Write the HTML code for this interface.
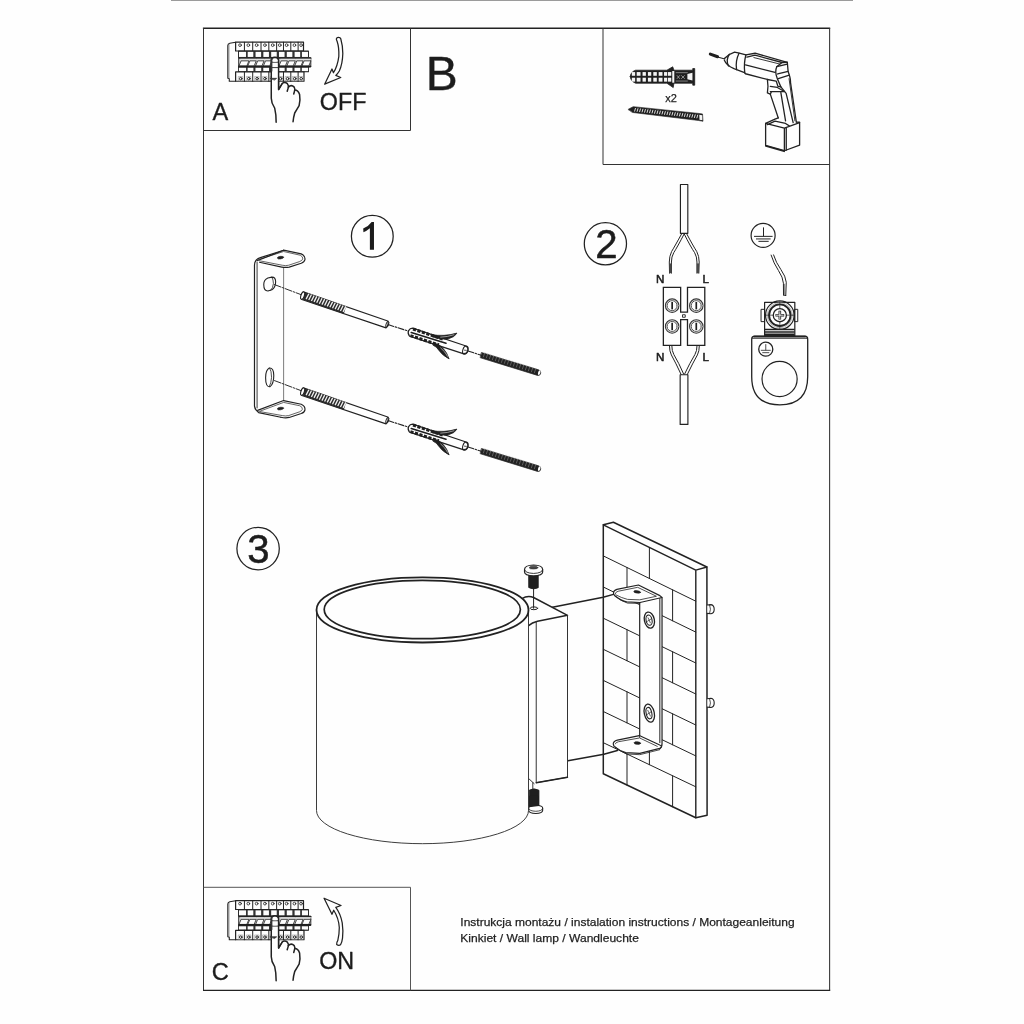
<!DOCTYPE html>
<html><head><meta charset="utf-8">
<style>
html,body{margin:0;padding:0;background:#fefefe;}
body{width:1024px;height:1024px;overflow:hidden;position:relative;font-family:"Liberation Sans",sans-serif;}
svg{position:absolute;left:0;top:0;filter:grayscale(1);}
text{font-family:"Liberation Sans",sans-serif;fill:#1c1c1c;stroke:none;}
</style></head><body>
<svg width="1024" height="1024" viewBox="0 0 1024 1024" fill="none" stroke="#222" stroke-width="1.2" stroke-linecap="round" stroke-linejoin="round">
<!-- sec_00_frame -->
<g stroke-linecap="butt" stroke-linejoin="miter">
<line x1="171" y1="0.2" x2="853" y2="0.2" stroke="#7a7a7a" stroke-width="1.3"/>
<line x1="202.9" y1="28.3" x2="830.2" y2="28.3" stroke="#222" stroke-width="1.5"/>
<line x1="203.5" y1="28" x2="203.5" y2="990.5" stroke="#333" stroke-width="1.0"/>
<line x1="829.6" y1="28" x2="829.6" y2="990.5" stroke="#3a3a3a" stroke-width="1.1"/>
<line x1="203" y1="990.3" x2="830.2" y2="990.3" stroke="#222" stroke-width="1.3"/>
<path d="M203.5 130.5H410.5V28.3" stroke="#333" stroke-width="1.0"/>
<path d="M603 28.3V164.5H829.6" stroke="#333" stroke-width="1.0"/>
<path d="M203.5 887.3H410.5V990.3" stroke="#555" stroke-width="1.0"/>
</g>
<!-- sec_10_breaker -->
<g>
<path d="M 235.62 42.21 L 229.77 43.18 Q 227.81 43.67 227.81 45.62 L 227.81 78.34 L 229.28 78.83 L 229.28 81.27 L 235.62 81.27" stroke-width="1.1"/>
<path d="M 228.98 44.65 L 228.98 78.34" stroke-width="0.6" stroke="#555"/>
<rect x="235.62" y="42.21" width="67.88" height="8.79" stroke-width="1.2" fill="#fefefe"/>
<line x1="244.41" y1="42.21" x2="244.41" y2="51" stroke-width="1.0"/>
<line x1="252.71" y1="42.21" x2="252.71" y2="51" stroke-width="1.0"/>
<line x1="261.02" y1="42.21" x2="261.02" y2="51" stroke-width="1.0"/>
<line x1="268.83" y1="42.21" x2="268.83" y2="51" stroke-width="1.0"/>
<line x1="276.64" y1="42.21" x2="276.64" y2="51" stroke-width="1.0"/>
<line x1="283.48" y1="42.21" x2="283.48" y2="51" stroke-width="1.0"/>
<line x1="290.8" y1="42.21" x2="290.8" y2="51" stroke-width="1.0"/>
<line x1="298.12" y1="42.21" x2="298.12" y2="51" stroke-width="1.0"/>
<circle cx="240.02" cy="45.14" r="1.37" stroke-width="0.8"/>
<circle cx="248.32" cy="45.14" r="1.37" stroke-width="0.8"/>
<circle cx="256.62" cy="45.14" r="1.37" stroke-width="0.8"/>
<circle cx="264.92" cy="45.14" r="1.37" stroke-width="0.8"/>
<circle cx="272.73" cy="45.14" r="1.37" stroke-width="0.8"/>
<circle cx="279.77" cy="45.14" r="1.37" stroke-width="0.8"/>
<circle cx="286.6" cy="45.14" r="1.37" stroke-width="0.8"/>
<circle cx="294.41" cy="45.14" r="1.37" stroke-width="0.8"/>
<circle cx="301.05" cy="45.14" r="1.37" stroke-width="0.8"/>
<rect x="238.55" y="51" width="69.83" height="6.34" stroke-width="1.1" fill="#333"/>
<rect x="238.95" y="51.88" width="7.03" height="5.07" stroke="none" fill="#fdfdfd"/>
<rect x="247.73" y="51.88" width="5.57" height="5.07" stroke="none" fill="#fdfdfd"/>
<rect x="255.55" y="51.88" width="5.56" height="5.07" stroke="none" fill="#fdfdfd"/>
<rect x="263.36" y="51.88" width="5.57" height="5.07" stroke="none" fill="#fdfdfd"/>
<rect x="271.17" y="51.88" width="5.57" height="5.07" stroke="none" fill="#fdfdfd"/>
<rect x="278.98" y="51.88" width="5.57" height="5.07" stroke="none" fill="#fdfdfd"/>
<rect x="286.8" y="51.88" width="5.56" height="5.07" stroke="none" fill="#fdfdfd"/>
<rect x="294.61" y="51.88" width="5.57" height="5.07" stroke="none" fill="#fdfdfd"/>
<rect x="301.93" y="51.88" width="6.06" height="5.07" stroke="none" fill="#fdfdfd"/>
<rect x="239.04" y="57.64" width="71.78" height="9.27" stroke-width="0.9" fill="#d0d0d0"/>
<line x1="239.04" y1="58.03" x2="310.82" y2="58.03" stroke-width="1.3" stroke="#222"/>
<line x1="239.04" y1="66.33" x2="310.33" y2="66.33" stroke-width="1.8" stroke="#1a1a1a"/>
<path d="M 239.14 65.55 L 241.09 60.86 L 248.91 60.86 L 246.95 65.55 Z" fill="#fdfdfd" stroke="#222" stroke-width="0.8"/>
<path d="M 240.7 59.3 L 248.91 59.3" stroke="#e8e8e8" stroke-width="0.9"/>
<path d="M 247.93 65.55 L 249.88 60.86 L 256.23 60.86 L 254.28 65.55 Z" fill="#fdfdfd" stroke="#222" stroke-width="0.8"/>
<path d="M 249.49 59.3 L 256.23 59.3" stroke="#e8e8e8" stroke-width="0.9"/>
<path d="M 255.74 65.55 L 257.7 60.86 L 264.04 60.86 L 262.09 65.55 Z" fill="#fdfdfd" stroke="#222" stroke-width="0.8"/>
<path d="M 257.3 59.3 L 264.04 59.3" stroke="#e8e8e8" stroke-width="0.9"/>
<path d="M 263.55 65.55 L 265.51 60.86 L 271.86 60.86 L 269.9 65.55 Z" fill="#fdfdfd" stroke="#222" stroke-width="0.8"/>
<path d="M 265.12 59.3 L 271.86 59.3" stroke="#e8e8e8" stroke-width="0.9"/>
<path d="M 279.18 65.55 L 281.13 60.86 L 287.48 60.86 L 285.53 65.55 Z" fill="#fdfdfd" stroke="#222" stroke-width="0.8"/>
<path d="M 280.74 59.3 L 287.48 59.3" stroke="#e8e8e8" stroke-width="0.9"/>
<path d="M 286.99 65.55 L 288.95 60.86 L 295.29 60.86 L 293.34 65.55 Z" fill="#fdfdfd" stroke="#222" stroke-width="0.8"/>
<path d="M 288.55 59.3 L 295.29 59.3" stroke="#e8e8e8" stroke-width="0.9"/>
<path d="M 294.8 65.55 L 296.76 60.86 L 303.11 60.86 L 301.15 65.55 Z" fill="#fdfdfd" stroke="#222" stroke-width="0.8"/>
<path d="M 296.37 59.3 L 303.11 59.3" stroke="#e8e8e8" stroke-width="0.9"/>
<path d="M 302.13 65.55 L 304.08 60.86 L 310.92 60.86 L 308.96 65.55 Z" fill="#fdfdfd" stroke="#222" stroke-width="0.8"/>
<path d="M 303.69 59.3 L 310.92 59.3" stroke="#e8e8e8" stroke-width="0.9"/>
<rect x="238.55" y="66.91" width="69.83" height="4.89" stroke-width="1.1" fill="#333"/>
<rect x="238.85" y="67.79" width="7.22" height="3.32" stroke="none" fill="#fdfdfd"/>
<rect x="247.64" y="67.79" width="5.76" height="3.32" stroke="none" fill="#fdfdfd"/>
<rect x="255.45" y="67.79" width="5.76" height="3.32" stroke="none" fill="#fdfdfd"/>
<rect x="263.26" y="67.79" width="5.76" height="3.32" stroke="none" fill="#fdfdfd"/>
<rect x="271.07" y="67.79" width="5.77" height="3.32" stroke="none" fill="#fdfdfd"/>
<rect x="278.89" y="67.79" width="5.76" height="3.32" stroke="none" fill="#fdfdfd"/>
<rect x="286.7" y="67.79" width="5.76" height="3.32" stroke="none" fill="#fdfdfd"/>
<rect x="294.51" y="67.79" width="5.76" height="3.32" stroke="none" fill="#fdfdfd"/>
<rect x="301.84" y="67.79" width="6.25" height="3.32" stroke="none" fill="#fdfdfd"/>
<rect x="235.62" y="71.8" width="68.36" height="9.47" stroke-width="1.2" fill="#fefefe"/>
<line x1="244.41" y1="71.8" x2="244.41" y2="81.27" stroke-width="1.0"/>
<line x1="252.71" y1="71.8" x2="252.71" y2="81.27" stroke-width="1.0"/>
<line x1="261.02" y1="71.8" x2="261.02" y2="81.27" stroke-width="1.0"/>
<line x1="268.83" y1="71.8" x2="268.83" y2="81.27" stroke-width="1.0"/>
<line x1="276.64" y1="71.8" x2="276.64" y2="81.27" stroke-width="1.0"/>
<line x1="283.48" y1="71.8" x2="283.48" y2="81.27" stroke-width="1.0"/>
<line x1="290.8" y1="71.8" x2="290.8" y2="81.27" stroke-width="1.0"/>
<line x1="298.12" y1="71.8" x2="298.12" y2="81.27" stroke-width="1.0"/>
<rect x="238.65" y="76.48" width="4.1" height="4.4" stroke-width="0.5" stroke="#888"/>
<circle cx="240.7" cy="78.63" r="1.27" stroke-width="1.0" fill="#fefefe"/>
<rect x="246.76" y="76.48" width="4.1" height="4.4" stroke-width="0.5" stroke="#888"/>
<circle cx="248.81" cy="78.63" r="1.27" stroke-width="1.0" fill="#fefefe"/>
<rect x="255.06" y="76.48" width="4.1" height="4.4" stroke-width="0.5" stroke="#888"/>
<circle cx="257.11" cy="78.63" r="1.27" stroke-width="1.0" fill="#fefefe"/>
<rect x="262.87" y="76.48" width="4.1" height="4.4" stroke-width="0.5" stroke="#888"/>
<circle cx="264.92" cy="78.63" r="1.27" stroke-width="1.0" fill="#fefefe"/>
<rect x="270.68" y="76.48" width="4.11" height="4.4" stroke-width="0.5" stroke="#888"/>
<circle cx="272.73" cy="78.63" r="1.27" stroke-width="1.0" fill="#fefefe"/>
<rect x="278.5" y="76.48" width="4.1" height="4.4" stroke-width="0.5" stroke="#888"/>
<circle cx="280.55" cy="78.63" r="1.27" stroke-width="1.0" fill="#fefefe"/>
<rect x="285.53" y="76.48" width="4.1" height="4.4" stroke-width="0.5" stroke="#888"/>
<circle cx="287.58" cy="78.63" r="1.27" stroke-width="1.0" fill="#fefefe"/>
<rect x="292.66" y="76.48" width="4.1" height="4.4" stroke-width="0.5" stroke="#888"/>
<circle cx="294.71" cy="78.63" r="1.27" stroke-width="1.0" fill="#fefefe"/>
<rect x="299.2" y="76.48" width="4.1" height="4.4" stroke-width="0.5" stroke="#888"/>
<circle cx="301.25" cy="78.63" r="1.27" stroke-width="1.0" fill="#fefefe"/>
<path d="M 271.27 98.36 L 271.27 60.27 Q 271.46 57.54 274.88 57.34 Q 278.4 57.54 278.59 60.27 L 278.59 89.57 L 282.5 83.22 Q 284.94 81.76 287.38 83.71 Q 288.85 85.18 288.36 87.13 Q 291.29 84.2 294.22 87.13 Q 295.2 88.59 294.71 90.06 Q 298.12 90.06 299.59 94.45 Q 300.57 100.31 299.1 105.68 Q 297.15 109.1 294.71 113.01 Q 293.44 117.4 293.05 121.8 L 276.15 122.29 Q 276.15 113.98 274.69 108.12 Q 271.27 103.24 271.27 98.36 Z" fill="#fefefe" stroke="none"/>
<path d="M 276.15 122.29 Q 276.15 113.98 274.69 108.12 Q 271.27 103.24 271.27 98.36 L 271.27 60.27 Q 271.46 57.54 274.88 57.34 Q 278.4 57.54 278.59 60.27 L 278.59 89.57 L 282.5 83.22 Q 284.94 81.76 287.38 83.71 Q 289.14 85.66 288.16 88.11 L 287.19 91.33" stroke-width="1.5"/>
<path d="M 288.36 87.13 Q 291.29 84.2 294.22 87.13 Q 295.39 89.08 294.41 91.52 L 293.73 93.96" stroke-width="1.5"/>
<path d="M 294.71 90.06 Q 298.12 90.06 299.59 94.45 Q 300.57 100.31 299.1 105.68 Q 297.15 109.1 294.71 113.01 Q 293.44 117.4 293.05 121.8" stroke-width="1.5"/>
<path d="M 271.56 62.23 L 278.4 62.23 M 271.56 67.6 L 278.4 67.6" stroke-width="0.9"/>
<path d="M 271.56 59.3 L 271.56 71.02" stroke="#333" stroke-width="1.6"/>
<rect x="273.22" y="59.3" width="3.42" height="2.44" fill="#fdfdfd" stroke="none"/>
<rect x="273.22" y="63.69" width="3.42" height="3.22" fill="#fdfdfd" stroke="none"/>
<path d="M 270.29 78.34 L 276.64 78.34 L 274.69 79.8 Z" fill="#333" stroke="#333" stroke-width="0.8"/>
<path d="M 278.59 80.78 L 278.59 89.57 L 282.01 83.71" fill="none" stroke-width="1.3"/>
</g>
<g transform="translate(0,858.5)">
<path d="M 235.62 42.21 L 229.77 43.18 Q 227.81 43.67 227.81 45.62 L 227.81 78.34 L 229.28 78.83 L 229.28 81.27 L 235.62 81.27" stroke-width="1.1"/>
<path d="M 228.98 44.65 L 228.98 78.34" stroke-width="0.6" stroke="#555"/>
<rect x="235.62" y="42.21" width="67.88" height="8.79" stroke-width="1.2" fill="#fefefe"/>
<line x1="244.41" y1="42.21" x2="244.41" y2="51" stroke-width="1.0"/>
<line x1="252.71" y1="42.21" x2="252.71" y2="51" stroke-width="1.0"/>
<line x1="261.02" y1="42.21" x2="261.02" y2="51" stroke-width="1.0"/>
<line x1="268.83" y1="42.21" x2="268.83" y2="51" stroke-width="1.0"/>
<line x1="276.64" y1="42.21" x2="276.64" y2="51" stroke-width="1.0"/>
<line x1="283.48" y1="42.21" x2="283.48" y2="51" stroke-width="1.0"/>
<line x1="290.8" y1="42.21" x2="290.8" y2="51" stroke-width="1.0"/>
<line x1="298.12" y1="42.21" x2="298.12" y2="51" stroke-width="1.0"/>
<circle cx="240.02" cy="45.14" r="1.37" stroke-width="0.8"/>
<circle cx="248.32" cy="45.14" r="1.37" stroke-width="0.8"/>
<circle cx="256.62" cy="45.14" r="1.37" stroke-width="0.8"/>
<circle cx="264.92" cy="45.14" r="1.37" stroke-width="0.8"/>
<circle cx="272.73" cy="45.14" r="1.37" stroke-width="0.8"/>
<circle cx="279.77" cy="45.14" r="1.37" stroke-width="0.8"/>
<circle cx="286.6" cy="45.14" r="1.37" stroke-width="0.8"/>
<circle cx="294.41" cy="45.14" r="1.37" stroke-width="0.8"/>
<circle cx="301.05" cy="45.14" r="1.37" stroke-width="0.8"/>
<rect x="238.55" y="51" width="69.83" height="6.34" stroke-width="1.1" fill="#333"/>
<rect x="238.95" y="51.88" width="7.03" height="5.07" stroke="none" fill="#fdfdfd"/>
<rect x="247.73" y="51.88" width="5.57" height="5.07" stroke="none" fill="#fdfdfd"/>
<rect x="255.55" y="51.88" width="5.56" height="5.07" stroke="none" fill="#fdfdfd"/>
<rect x="263.36" y="51.88" width="5.57" height="5.07" stroke="none" fill="#fdfdfd"/>
<rect x="271.17" y="51.88" width="5.57" height="5.07" stroke="none" fill="#fdfdfd"/>
<rect x="278.98" y="51.88" width="5.57" height="5.07" stroke="none" fill="#fdfdfd"/>
<rect x="286.8" y="51.88" width="5.56" height="5.07" stroke="none" fill="#fdfdfd"/>
<rect x="294.61" y="51.88" width="5.57" height="5.07" stroke="none" fill="#fdfdfd"/>
<rect x="301.93" y="51.88" width="6.06" height="5.07" stroke="none" fill="#fdfdfd"/>
<rect x="239.04" y="57.64" width="71.78" height="9.27" stroke-width="0.9" fill="#d0d0d0"/>
<line x1="239.04" y1="58.03" x2="310.82" y2="58.03" stroke-width="1.3" stroke="#222"/>
<line x1="239.04" y1="66.33" x2="310.33" y2="66.33" stroke-width="1.8" stroke="#1a1a1a"/>
<path d="M 239.14 65.55 L 241.09 60.86 L 248.91 60.86 L 246.95 65.55 Z" fill="#fdfdfd" stroke="#222" stroke-width="0.8"/>
<path d="M 240.7 59.3 L 248.91 59.3" stroke="#e8e8e8" stroke-width="0.9"/>
<path d="M 247.93 65.55 L 249.88 60.86 L 256.23 60.86 L 254.28 65.55 Z" fill="#fdfdfd" stroke="#222" stroke-width="0.8"/>
<path d="M 249.49 59.3 L 256.23 59.3" stroke="#e8e8e8" stroke-width="0.9"/>
<path d="M 255.74 65.55 L 257.7 60.86 L 264.04 60.86 L 262.09 65.55 Z" fill="#fdfdfd" stroke="#222" stroke-width="0.8"/>
<path d="M 257.3 59.3 L 264.04 59.3" stroke="#e8e8e8" stroke-width="0.9"/>
<path d="M 263.55 65.55 L 265.51 60.86 L 271.86 60.86 L 269.9 65.55 Z" fill="#fdfdfd" stroke="#222" stroke-width="0.8"/>
<path d="M 265.12 59.3 L 271.86 59.3" stroke="#e8e8e8" stroke-width="0.9"/>
<path d="M 279.18 65.55 L 281.13 60.86 L 287.48 60.86 L 285.53 65.55 Z" fill="#fdfdfd" stroke="#222" stroke-width="0.8"/>
<path d="M 280.74 59.3 L 287.48 59.3" stroke="#e8e8e8" stroke-width="0.9"/>
<path d="M 286.99 65.55 L 288.95 60.86 L 295.29 60.86 L 293.34 65.55 Z" fill="#fdfdfd" stroke="#222" stroke-width="0.8"/>
<path d="M 288.55 59.3 L 295.29 59.3" stroke="#e8e8e8" stroke-width="0.9"/>
<path d="M 294.8 65.55 L 296.76 60.86 L 303.11 60.86 L 301.15 65.55 Z" fill="#fdfdfd" stroke="#222" stroke-width="0.8"/>
<path d="M 296.37 59.3 L 303.11 59.3" stroke="#e8e8e8" stroke-width="0.9"/>
<path d="M 302.13 65.55 L 304.08 60.86 L 310.92 60.86 L 308.96 65.55 Z" fill="#fdfdfd" stroke="#222" stroke-width="0.8"/>
<path d="M 303.69 59.3 L 310.92 59.3" stroke="#e8e8e8" stroke-width="0.9"/>
<rect x="238.55" y="66.91" width="69.83" height="4.89" stroke-width="1.1" fill="#333"/>
<rect x="238.85" y="67.79" width="7.22" height="3.32" stroke="none" fill="#fdfdfd"/>
<rect x="247.64" y="67.79" width="5.76" height="3.32" stroke="none" fill="#fdfdfd"/>
<rect x="255.45" y="67.79" width="5.76" height="3.32" stroke="none" fill="#fdfdfd"/>
<rect x="263.26" y="67.79" width="5.76" height="3.32" stroke="none" fill="#fdfdfd"/>
<rect x="271.07" y="67.79" width="5.77" height="3.32" stroke="none" fill="#fdfdfd"/>
<rect x="278.89" y="67.79" width="5.76" height="3.32" stroke="none" fill="#fdfdfd"/>
<rect x="286.7" y="67.79" width="5.76" height="3.32" stroke="none" fill="#fdfdfd"/>
<rect x="294.51" y="67.79" width="5.76" height="3.32" stroke="none" fill="#fdfdfd"/>
<rect x="301.84" y="67.79" width="6.25" height="3.32" stroke="none" fill="#fdfdfd"/>
<rect x="235.62" y="71.8" width="68.36" height="9.47" stroke-width="1.2" fill="#fefefe"/>
<line x1="244.41" y1="71.8" x2="244.41" y2="81.27" stroke-width="1.0"/>
<line x1="252.71" y1="71.8" x2="252.71" y2="81.27" stroke-width="1.0"/>
<line x1="261.02" y1="71.8" x2="261.02" y2="81.27" stroke-width="1.0"/>
<line x1="268.83" y1="71.8" x2="268.83" y2="81.27" stroke-width="1.0"/>
<line x1="276.64" y1="71.8" x2="276.64" y2="81.27" stroke-width="1.0"/>
<line x1="283.48" y1="71.8" x2="283.48" y2="81.27" stroke-width="1.0"/>
<line x1="290.8" y1="71.8" x2="290.8" y2="81.27" stroke-width="1.0"/>
<line x1="298.12" y1="71.8" x2="298.12" y2="81.27" stroke-width="1.0"/>
<rect x="238.65" y="76.48" width="4.1" height="4.4" stroke-width="0.5" stroke="#888"/>
<circle cx="240.7" cy="78.63" r="1.27" stroke-width="1.0" fill="#fefefe"/>
<rect x="246.76" y="76.48" width="4.1" height="4.4" stroke-width="0.5" stroke="#888"/>
<circle cx="248.81" cy="78.63" r="1.27" stroke-width="1.0" fill="#fefefe"/>
<rect x="255.06" y="76.48" width="4.1" height="4.4" stroke-width="0.5" stroke="#888"/>
<circle cx="257.11" cy="78.63" r="1.27" stroke-width="1.0" fill="#fefefe"/>
<rect x="262.87" y="76.48" width="4.1" height="4.4" stroke-width="0.5" stroke="#888"/>
<circle cx="264.92" cy="78.63" r="1.27" stroke-width="1.0" fill="#fefefe"/>
<rect x="270.68" y="76.48" width="4.11" height="4.4" stroke-width="0.5" stroke="#888"/>
<circle cx="272.73" cy="78.63" r="1.27" stroke-width="1.0" fill="#fefefe"/>
<rect x="278.5" y="76.48" width="4.1" height="4.4" stroke-width="0.5" stroke="#888"/>
<circle cx="280.55" cy="78.63" r="1.27" stroke-width="1.0" fill="#fefefe"/>
<rect x="285.53" y="76.48" width="4.1" height="4.4" stroke-width="0.5" stroke="#888"/>
<circle cx="287.58" cy="78.63" r="1.27" stroke-width="1.0" fill="#fefefe"/>
<rect x="292.66" y="76.48" width="4.1" height="4.4" stroke-width="0.5" stroke="#888"/>
<circle cx="294.71" cy="78.63" r="1.27" stroke-width="1.0" fill="#fefefe"/>
<rect x="299.2" y="76.48" width="4.1" height="4.4" stroke-width="0.5" stroke="#888"/>
<circle cx="301.25" cy="78.63" r="1.27" stroke-width="1.0" fill="#fefefe"/>
<path d="M 271.27 98.36 L 271.27 60.27 Q 271.46 57.54 274.88 57.34 Q 278.4 57.54 278.59 60.27 L 278.59 89.57 L 282.5 83.22 Q 284.94 81.76 287.38 83.71 Q 288.85 85.18 288.36 87.13 Q 291.29 84.2 294.22 87.13 Q 295.2 88.59 294.71 90.06 Q 298.12 90.06 299.59 94.45 Q 300.57 100.31 299.1 105.68 Q 297.15 109.1 294.71 113.01 Q 293.44 117.4 293.05 121.8 L 276.15 122.29 Q 276.15 113.98 274.69 108.12 Q 271.27 103.24 271.27 98.36 Z" fill="#fefefe" stroke="none"/>
<path d="M 276.15 122.29 Q 276.15 113.98 274.69 108.12 Q 271.27 103.24 271.27 98.36 L 271.27 60.27 Q 271.46 57.54 274.88 57.34 Q 278.4 57.54 278.59 60.27 L 278.59 89.57 L 282.5 83.22 Q 284.94 81.76 287.38 83.71 Q 289.14 85.66 288.16 88.11 L 287.19 91.33" stroke-width="1.5"/>
<path d="M 288.36 87.13 Q 291.29 84.2 294.22 87.13 Q 295.39 89.08 294.41 91.52 L 293.73 93.96" stroke-width="1.5"/>
<path d="M 294.71 90.06 Q 298.12 90.06 299.59 94.45 Q 300.57 100.31 299.1 105.68 Q 297.15 109.1 294.71 113.01 Q 293.44 117.4 293.05 121.8" stroke-width="1.5"/>
<path d="M 271.56 62.23 L 278.4 62.23 M 271.56 67.6 L 278.4 67.6" stroke-width="0.9"/>
<path d="M 271.56 59.3 L 271.56 71.02" stroke="#333" stroke-width="1.6"/>
<rect x="273.22" y="59.3" width="3.42" height="2.44" fill="#fdfdfd" stroke="none"/>
<rect x="273.22" y="63.69" width="3.42" height="3.22" fill="#fdfdfd" stroke="none"/>
<path d="M 270.29 78.34 L 276.64 78.34 L 274.69 79.8 Z" fill="#333" stroke="#333" stroke-width="0.8"/>
<path d="M 278.59 80.78 L 278.59 89.57 L 282.01 83.71" fill="none" stroke-width="1.3"/>
</g>
<!-- sec_20_labels -->
<path d="M 336.37 39.38 Q 336.37 37.32 338.42 37.32 Q 340.47 37.32 340.76 38.79 Q 342.81 45.82 342.81 53.44 Q 342.52 63.98 339.3 71.02 Q 337.83 73.65 335.78 75.41 L 340.76 77.46 L 324.65 84.2 L 331.97 68.96 L 333.44 72.77 Q 337.54 66.33 338.83 56.37 Q 339.18 47.58 337.25 41.72 Z" stroke-width="1.25"/>
<path d="M 324.06 898.2 L 341.05 905.53 L 335.78 907.29 Q 340.47 913.44 342.23 922.81 Q 343.4 931.02 342.52 938.05 Q 341.93 942.73 340.47 944.79 Q 338.71 945.96 336.66 944.49 Q 336.37 942.73 337.83 940.39 Q 339.3 934.53 339.3 927.5 Q 338.71 918.12 333.73 910.21 L 331.97 914.32 Z" stroke-width="1.25"/>
<text style="stroke:#1c1c1c;stroke-width:0.35" x="212.6" y="120" font-size="23.6">A</text>
<text style="stroke:#1c1c1c;stroke-width:0.35" x="319.8" y="110" font-size="23.3">OFF</text>
<text style="stroke:#1c1c1c;stroke-width:0.4" x="425.7" y="89.8" font-size="47.9">B</text>
<text style="stroke:#1c1c1c;stroke-width:0.35" x="211.8" y="979.6" font-size="23.6">C</text>
<text style="stroke:#1c1c1c;stroke-width:0.35" x="319.2" y="968.5" font-size="23.3">ON</text>
<!-- sec_21_circnums -->
<circle cx="372.3" cy="236.3" r="20.9" stroke-width="1.25"/>
<circle cx="605.4" cy="243.8" r="21.1" stroke-width="1.25"/>
<circle cx="258.1" cy="548.6" r="21.2" stroke-width="1.25"/>
<path d="M 373.98 249.82 L 369.88 249.82 L 369.88 228.32 Q 366.95 230.9 363.44 232.19 L 363.2 228.55 Q 368.71 226.21 371.64 221.99 L 373.98 221.99 Z" fill="#1c1c1c" stroke="none"/>
<text style="stroke:#1c1c1c;stroke-width:0.5" id="n2" x="595.2" y="257.6" font-size="40.2">2</text>
<text style="stroke:#1c1c1c;stroke-width:0.5" id="n3" x="247.3" y="562.5" font-size="40.2">3</text>
<!-- sec_30_tools -->
<path d="M 630.25 76.56 Q 630.55 71.97 635.62 70.21 L 666.88 70.21 L 672.73 66.8 L 673.91 70.21 L 692.75 70.21 L 692.75 68.55 L 694.71 68.55 L 694.71 85.16 L 692.75 85.16 L 692.75 83.2 L 673.91 83.2 L 673.22 87.6 L 666.88 83.2 L 635.62 83.2 Q 630.55 81.25 630.25 76.56 Z" fill="#1f1f1f" stroke="#1f1f1f" stroke-width="0.8"/>
<rect x="631.82" y="72.07" width="3.32" height="3.71" fill="#f4f4f4" stroke="none"/>
<rect x="631.82" y="77.73" width="3.32" height="3.91" fill="#f4f4f4" stroke="none"/>
<rect x="636.7" y="72.07" width="3.81" height="3.71" fill="#f4f4f4" stroke="none"/>
<rect x="636.7" y="77.73" width="3.81" height="3.91" fill="#f4f4f4" stroke="none"/>
<rect x="642.56" y="72.07" width="3.32" height="3.71" fill="#f4f4f4" stroke="none"/>
<rect x="642.56" y="77.73" width="3.32" height="3.91" fill="#f4f4f4" stroke="none"/>
<rect x="647.93" y="72.07" width="3.32" height="3.71" fill="#f4f4f4" stroke="none"/>
<rect x="647.93" y="77.73" width="3.32" height="3.91" fill="#f4f4f4" stroke="none"/>
<rect x="653.3" y="72.07" width="3.52" height="3.71" fill="#f4f4f4" stroke="none"/>
<rect x="653.3" y="77.73" width="3.52" height="3.91" fill="#f4f4f4" stroke="none"/>
<rect x="658.67" y="72.07" width="3.81" height="3.71" fill="#f4f4f4" stroke="none"/>
<rect x="658.67" y="77.73" width="3.81" height="3.91" fill="#f4f4f4" stroke="none"/>
<rect x="664.04" y="72.07" width="3.13" height="3.71" fill="#f4f4f4" stroke="none"/>
<rect x="664.04" y="77.73" width="3.13" height="3.91" fill="#f4f4f4" stroke="none"/>
<rect x="667.95" y="72.07" width="3.32" height="3.71" fill="#f4f4f4" stroke="none"/>
<rect x="667.95" y="77.73" width="3.32" height="3.91" fill="#f4f4f4" stroke="none"/>
<rect x="672.25" y="71" width="2.05" height="11.71" fill="#f4f4f4" stroke="none"/>
<path d="M 687.38 73.93 L 692.46 72.66 L 692.46 80.47 L 687.38 79.3 Z" fill="#f4f4f4" stroke="none"/>
<path d="M 676.15 72.66 L 687.38 72.66 M 676.15 81.05 L 687.38 81.05" stroke="#aaa" stroke-width="0.7"/>
<path d="M 677.13 75.59 L 679.57 78.52 M 679.57 75.59 L 677.13 78.52 M 681.52 75.59 L 684.45 78.52 M 684.45 75.59 L 681.52 78.52" stroke="#bbb" stroke-width="0.7"/>
<path d="M 628.3 109.28 L 633.18 106.64 L 699.1 113.48 L 702.52 113.96 L 703.01 121.29 L 698.61 120.51 L 632.7 112.5 Z" fill="#1f1f1f" stroke="#1f1f1f" stroke-width="0.6"/>
<path d="M 699.3 114.84 L 702.23 115.33 L 702.42 120.31 L 699.49 119.73 Z" fill="#f4f4f4" stroke="none"/>
<path d="M 635.43 108.4 L 634.65 111.13" stroke="#e8e8e8" stroke-width="0.95"/>
<path d="M 637.92 108.67 L 637.14 111.4" stroke="#e8e8e8" stroke-width="0.95"/>
<path d="M 640.41 108.94 L 639.63 111.67" stroke="#e8e8e8" stroke-width="0.95"/>
<path d="M 642.9 109.2 L 642.12 111.94" stroke="#e8e8e8" stroke-width="0.95"/>
<path d="M 645.39 109.47 L 644.61 112.21" stroke="#e8e8e8" stroke-width="0.95"/>
<path d="M 647.88 109.74 L 647.1 112.48" stroke="#e8e8e8" stroke-width="0.95"/>
<path d="M 650.37 110.01 L 649.59 112.74" stroke="#e8e8e8" stroke-width="0.95"/>
<path d="M 652.86 110.28 L 652.08 113.01" stroke="#e8e8e8" stroke-width="0.95"/>
<path d="M 655.35 110.55 L 654.57 113.28" stroke="#e8e8e8" stroke-width="0.95"/>
<path d="M 657.84 110.82 L 657.06 113.55" stroke="#e8e8e8" stroke-width="0.95"/>
<path d="M 660.33 111.08 L 659.55 113.82" stroke="#e8e8e8" stroke-width="0.95"/>
<path d="M 662.82 111.35 L 662.04 114.09" stroke="#e8e8e8" stroke-width="0.95"/>
<path d="M 665.31 111.62 L 664.53 114.36" stroke="#e8e8e8" stroke-width="0.95"/>
<path d="M 667.8 111.89 L 667.02 114.62" stroke="#e8e8e8" stroke-width="0.95"/>
<path d="M 670.29 112.16 L 669.51 114.89" stroke="#e8e8e8" stroke-width="0.95"/>
<path d="M 672.78 112.43 L 672 115.16" stroke="#e8e8e8" stroke-width="0.95"/>
<path d="M 675.27 112.7 L 674.49 115.43" stroke="#e8e8e8" stroke-width="0.95"/>
<path d="M 677.76 112.96 L 676.98 115.7" stroke="#e8e8e8" stroke-width="0.95"/>
<path d="M 680.25 113.23 L 679.47 115.97" stroke="#e8e8e8" stroke-width="0.95"/>
<path d="M 682.74 113.5 L 681.96 116.24" stroke="#e8e8e8" stroke-width="0.95"/>
<path d="M 685.23 113.77 L 684.45 116.5" stroke="#e8e8e8" stroke-width="0.95"/>
<path d="M 687.72 114.04 L 686.94 116.77" stroke="#e8e8e8" stroke-width="0.95"/>
<path d="M 690.21 114.31 L 689.43 117.04" stroke="#e8e8e8" stroke-width="0.95"/>
<path d="M 692.71 114.58 L 691.92 117.31" stroke="#e8e8e8" stroke-width="0.95"/>
<path d="M 695.2 114.84 L 694.41 117.58" stroke="#e8e8e8" stroke-width="0.95"/>
<path d="M 697.69 115.11 L 696.9 117.85" stroke="#e8e8e8" stroke-width="0.95"/>
<text style="stroke:#222;stroke-width:0.25" x="665.3" y="102.2" font-size="11" fill="#222">x2</text>
<path d="M 710.31 54.06 L 717.58 56.76" stroke="#1f1f1f" stroke-width="3"/>
<path d="M 717.58 56.99 L 724.84 58.98" stroke-width="1.1"/>
<path d="M 724.38 58.52 Q 728.71 54.06 734.57 52.19 L 739.26 53.12 L 745.94 54.77 L 755.08 53.24 L 787.3 62.27 L 788.12 71.41 Q 790.82 78.67 790.47 82.19 L 796.33 122.03" stroke-width="1.3"/>
<path d="M 724.38 60.16 Q 726.37 65.2 733.98 68.71 L 736.56 69.53 L 744.53 72.58 L 745.47 73.75 L 767.38 79.49 L 767.97 86.29 L 767.38 92.97 L 770.31 94.14 L 778.28 117.93" stroke-width="1.3"/>
<path d="M 729.3 54.3 Q 725.55 59.92 728.48 66.02" stroke-width="1.3"/>
<path d="M 739.02 53.24 Q 735.16 61.09 736.56 69.53" stroke-width="1.3"/>
<path d="M 745.94 54.77 Q 743.59 63.44 744.77 72.81" stroke-width="1.3"/>
<path d="M 746.88 57.11 L 755.08 55.23 L 782.03 62.5 L 787.3 62.27" stroke-width="1.3"/>
<path d="M 753.91 57.58 L 779.69 64.02" stroke-width="0.9"/>
<path d="M 745.47 64.84 L 775 72.46" stroke-width="1.3"/>
<path d="M 782.03 62.5 L 776.76 66.72 Q 774.41 71.64 777.34 78.67 L 780.86 86.88" stroke-width="1.3"/>
<path d="M 776.76 66.72 L 787.3 64.02 M 777.7 73.98 L 788.12 71.41 M 778.28 78.67 L 789.3 75.16" stroke-width="1.3"/>
<path d="M 767.38 79.49 L 776.17 81.02 L 777.93 86.29 L 780.86 86.88 L 786.13 93.32 L 793.16 122.62" stroke-width="1.3"/>
<path d="M 770.31 86.29 L 777.34 87.46 L 784.38 91.56 L 770.31 91.56 M 780.86 92.73 L 785.55 120.86" stroke-width="1.3"/>
<path d="M 770.31 94.14 L 771.48 91.56" stroke-width="1.3"/>
<path d="M 789.06 78.67 L 794.92 120.86" stroke-width="0.9"/>
<path d="M 778.28 117.93 L 775 119.1 L 765.62 123.44 L 765.62 145.47 L 784.38 150.74 L 799.61 145.12 L 799.61 122.27 L 796.33 122.03" stroke-width="1.3"/>
<path d="M 765.62 123.44 L 784.38 128.12 L 784.38 150.74 M 784.38 128.12 L 799.61 122.73 M 786.25 127.54 L 786.25 150.16 M 767.38 124.61 L 775 121.09 L 785.55 123.44 L 789.65 126.13" stroke-width="1.3"/>
<path d="M 765.86 146.05 L 784.14 151.33" stroke-width="1.6"/>
<!-- sec_40_step1 -->
<path d="M 283.62 250.21 L 260.42 257.63 Q 254.48 259.49 254.48 265.06 L 254.48 406.13 Q 254.85 409.84 258.56 412.62 L 280.84 417.26" stroke-width="1.2"/>
<path d="M 257.08 262.27 L 257.08 407.98" stroke-width="0.9"/>
<path d="M 283.62 267.47 L 283.62 400.56" stroke-width="0.7" stroke="#444"/>
<path d="M 257.08 260.79 L 283.62 250.21 L 301.25 253.92 Q 305.34 255.78 304.97 259.49 Q 304.59 261.9 301.25 263.2 L 289.19 267.1 Q 285.48 267.84 281.76 267.1 L 259.49 262.27" stroke-width="1.2"/>
<path d="M 258.56 259.49 L 283.62 251.51 L 300.32 255.22 Q 303.11 256.71 302.74 258.93 Q 302.37 260.42 299.77 261.53 L 288.63 265.24 Q 285.48 265.99 282.32 265.24 L 259.49 260.79" stroke-width="0.7"/>
<ellipse cx="280.46" cy="257.63" rx="3.16" ry="1.3" transform="rotate(-8 280.46 257.63)" fill="#1f1f1f" stroke="#1f1f1f" stroke-width="0.6"/>
<path d="M 257.63 410.39 L 283.62 400.56 L 301.25 404.27 Q 305.34 406.13 304.97 409.84 Q 304.59 412.25 301.25 413.55 L 289.19 417.45 Q 285.48 418.19 280.84 417.26" stroke-width="1.2"/>
<path d="M 258.56 411.69 L 283.62 402.41 L 299.77 405.75 Q 302.74 407.05 302.37 409.28 Q 302 410.77 299.4 411.88 L 288.63 415.59 Q 285.48 416.33 282.32 415.59 L 260.42 411.69" stroke-width="0.7"/>
<ellipse cx="280.46" cy="408.54" rx="3.16" ry="1.3" transform="rotate(-8 280.46 408.54)" fill="#1f1f1f" stroke="#1f1f1f" stroke-width="0.6"/>
<path d="M 263.76 284.55 Q 263.76 279.91 267.84 278.05 L 271.93 277.12 Q 275.64 277.12 275.64 281.76 Q 275.64 287.33 271.93 289.74 L 267.84 291.04 Q 263.76 291.04 263.76 284.55 Z" stroke-width="1.1"/>
<path d="M 271.93 277.12 Q 273.41 279.91 273.41 283.62 Q 273.04 287.89 270.63 290.49" stroke-width="0.8"/>
<path d="M 265.61 377.73 Q 265.61 369.93 269.33 368.07 Q 273.78 367.7 273.78 375.5 Q 273.78 383.85 270.07 386.64 Q 265.61 387.56 265.61 377.73 Z" stroke-width="1.1"/>
<path d="M 269.7 368.07 Q 271.55 370.86 271.55 377.35 Q 271.18 383.29 269.33 386.64" stroke-width="0.8"/>
<g>
<line x1="274.5" y1="284.6" x2="302" y2="295" stroke-width="0.95" stroke-dasharray="7 1.5 1.5 1.5"/>
<line x1="388" y1="324.6" x2="409" y2="331.3" stroke-width="1.1" stroke-dasharray="6 1.5 1.5 1.5"/>
<line x1="468" y1="351" x2="482" y2="355.5" stroke-width="1.1" stroke-dasharray="6 1.5 1.5 1.5"/>
<path d="M 303.3 291.91 L 387.77 321.02 Q 389.24 324.43 386.02 327.85 L 301.84 299.53 Q 299.88 295.62 303.3 291.91 Z" fill="#fefefe" stroke-width="1.2"/>
<path d="M 304.77 292.4 L 345.98 306.66 L 343.83 313.69 L 302.81 299.82 Z" fill="#2a2a2a" stroke="none"/>
<path d="M 308.87 293.67 L 306.13 299.14" stroke="#f2f2f2" stroke-width="1.3" stroke-linecap="butt"/>
<path d="M 311.5 294.58 L 308.77 300.05" stroke="#f2f2f2" stroke-width="1.3" stroke-linecap="butt"/>
<path d="M 314.14 295.49 L 311.41 300.96" stroke="#f2f2f2" stroke-width="1.3" stroke-linecap="butt"/>
<path d="M 316.78 296.4 L 314.04 301.87" stroke="#f2f2f2" stroke-width="1.3" stroke-linecap="butt"/>
<path d="M 319.41 297.3 L 316.68 302.77" stroke="#f2f2f2" stroke-width="1.3" stroke-linecap="butt"/>
<path d="M 322.05 298.21 L 319.32 303.68" stroke="#f2f2f2" stroke-width="1.3" stroke-linecap="butt"/>
<path d="M 324.69 299.12 L 321.95 304.59" stroke="#f2f2f2" stroke-width="1.3" stroke-linecap="butt"/>
<path d="M 327.32 300.03 L 324.59 305.5" stroke="#f2f2f2" stroke-width="1.3" stroke-linecap="butt"/>
<path d="M 329.96 300.94 L 327.23 306.41" stroke="#f2f2f2" stroke-width="1.3" stroke-linecap="butt"/>
<path d="M 332.6 301.85 L 329.86 307.31" stroke="#f2f2f2" stroke-width="1.3" stroke-linecap="butt"/>
<path d="M 335.23 302.75 L 332.5 308.22" stroke="#f2f2f2" stroke-width="1.3" stroke-linecap="butt"/>
<path d="M 337.87 303.66 L 335.14 309.13" stroke="#f2f2f2" stroke-width="1.3" stroke-linecap="butt"/>
<path d="M 340.51 304.57 L 337.77 310.04" stroke="#f2f2f2" stroke-width="1.3" stroke-linecap="butt"/>
<path d="M 343.14 305.48 L 340.41 310.95" stroke="#f2f2f2" stroke-width="1.3" stroke-linecap="butt"/>
<path d="M 345.78 306.39 L 343.05 311.86" stroke="#f2f2f2" stroke-width="1.3" stroke-linecap="butt"/>
<ellipse cx="302.62" cy="295.62" rx="1.66" ry="3.91" transform="rotate(18 302.62 295.62)" fill="#fefefe" stroke-width="1.1"/>
<ellipse cx="387.29" cy="324.43" rx="1.27" ry="3.32" transform="rotate(18 387.29 324.43)" stroke-width="0.9"/>
<path d="M 412.58 328.18 L 465.31 345.76 Q 468.39 347.08 467.95 350.6 Q 467.07 354.11 463.12 353.67 L 409.5 336.09 Q 407.3 333.46 408.62 330.64 Q 409.94 328.18 412.58 328.18 Z" fill="#fefefe" stroke-width="1.2"/>
<ellipse cx="465.31" cy="350.16" rx="2.46" ry="4.22" transform="rotate(18 465.31 350.16)" stroke-width="1.1"/>
<path d="M 464.43 350.16 L 466.37 350.33" stroke-width="0.8"/>
<path d="M 413.02 329.06 L 444.22 339.61" stroke="#1f1f1f" stroke-width="3.1" stroke-dasharray="3.2 1.5" stroke-linecap="butt"/>
<path d="M 410.38 335.65 L 438.95 344.88" stroke="#1f1f1f" stroke-width="3.1" stroke-dasharray="3.2 1.5" stroke-linecap="butt"/>
<path d="M 411.26 332.58 L 445.98 343.3" stroke="#1f1f1f" stroke-width="1.6"/>
<path d="M 431.04 334.51 Q 444.22 336.97 456.96 333.11 Q 455.21 336.97 447.73 339.08 Q 440.7 339.61 432.79 336.97 Z" fill="#1f1f1f" stroke="#1f1f1f" stroke-width="0.8"/>
<path d="M 440.7 337.15 Q 447.73 336.97 453.89 334.78" stroke="#eee" stroke-width="0.6"/>
<path d="M 434.11 342.77 Q 444.66 345.76 449.14 358.95 Q 442.46 355.43 438.77 350.16 Q 437.01 346.82 433.23 345.23 Z" fill="#1f1f1f" stroke="#1f1f1f" stroke-width="0.8"/>
<path d="M 440.7 347.96 Q 445.54 351.91 447.56 356.31" stroke="#eee" stroke-width="0.6"/>
<path d="M481.7 352.6 L538.5 369.8 Q541 370.5 540.8 373 Q540.3 376 537.5 375.4 L480.5 357.8 Z" fill="#222" stroke="#222" stroke-width="0.7"/>
<ellipse cx="539.2" cy="372.7" rx="1.1" ry="2.4" transform="rotate(18 539.2 372.7)" fill="#fefefe" stroke="none"/>
<line x1="484.8" y1="352.7" x2="483.4" y2="356.9" stroke="#9a9a9a" stroke-width="0.5"/>
<line x1="487.8" y1="353.6" x2="486.4" y2="357.8" stroke="#9a9a9a" stroke-width="0.5"/>
<line x1="490.8" y1="354.6" x2="489.4" y2="358.8" stroke="#9a9a9a" stroke-width="0.5"/>
<line x1="493.8" y1="355.5" x2="492.4" y2="359.7" stroke="#9a9a9a" stroke-width="0.5"/>
<line x1="496.8" y1="356.4" x2="495.4" y2="360.6" stroke="#9a9a9a" stroke-width="0.5"/>
<line x1="499.8" y1="357.3" x2="498.4" y2="361.6" stroke="#9a9a9a" stroke-width="0.5"/>
<line x1="502.8" y1="358.3" x2="501.4" y2="362.5" stroke="#9a9a9a" stroke-width="0.5"/>
<line x1="505.8" y1="359.2" x2="504.4" y2="363.4" stroke="#9a9a9a" stroke-width="0.5"/>
<line x1="508.8" y1="360.1" x2="507.4" y2="364.3" stroke="#9a9a9a" stroke-width="0.5"/>
<line x1="511.8" y1="361.1" x2="510.4" y2="365.3" stroke="#9a9a9a" stroke-width="0.5"/>
<line x1="514.8" y1="362.0" x2="513.4" y2="366.2" stroke="#9a9a9a" stroke-width="0.5"/>
<line x1="517.8" y1="362.9" x2="516.4" y2="367.1" stroke="#9a9a9a" stroke-width="0.5"/>
<line x1="520.8" y1="363.9" x2="519.4" y2="368.1" stroke="#9a9a9a" stroke-width="0.5"/>
<line x1="523.8" y1="364.8" x2="522.4" y2="369.0" stroke="#9a9a9a" stroke-width="0.5"/>
<line x1="526.8" y1="365.7" x2="525.4" y2="369.9" stroke="#9a9a9a" stroke-width="0.5"/>
<line x1="529.8" y1="366.6" x2="528.4" y2="370.9" stroke="#9a9a9a" stroke-width="0.5"/>
<line x1="532.8" y1="367.6" x2="531.4" y2="371.8" stroke="#9a9a9a" stroke-width="0.5"/>
<line x1="535.8" y1="368.5" x2="534.4" y2="372.7" stroke="#9a9a9a" stroke-width="0.5"/>
</g>
<g transform="translate(0,96)">
<line x1="274.5" y1="284.6" x2="302" y2="295" stroke-width="0.95" stroke-dasharray="7 1.5 1.5 1.5"/>
<line x1="388" y1="324.6" x2="409" y2="331.3" stroke-width="1.1" stroke-dasharray="6 1.5 1.5 1.5"/>
<line x1="468" y1="351" x2="482" y2="355.5" stroke-width="1.1" stroke-dasharray="6 1.5 1.5 1.5"/>
<path d="M 303.3 291.91 L 387.77 321.02 Q 389.24 324.43 386.02 327.85 L 301.84 299.53 Q 299.88 295.62 303.3 291.91 Z" fill="#fefefe" stroke-width="1.2"/>
<path d="M 304.77 292.4 L 345.98 306.66 L 343.83 313.69 L 302.81 299.82 Z" fill="#2a2a2a" stroke="none"/>
<path d="M 308.87 293.67 L 306.13 299.14" stroke="#f2f2f2" stroke-width="1.3" stroke-linecap="butt"/>
<path d="M 311.5 294.58 L 308.77 300.05" stroke="#f2f2f2" stroke-width="1.3" stroke-linecap="butt"/>
<path d="M 314.14 295.49 L 311.41 300.96" stroke="#f2f2f2" stroke-width="1.3" stroke-linecap="butt"/>
<path d="M 316.78 296.4 L 314.04 301.87" stroke="#f2f2f2" stroke-width="1.3" stroke-linecap="butt"/>
<path d="M 319.41 297.3 L 316.68 302.77" stroke="#f2f2f2" stroke-width="1.3" stroke-linecap="butt"/>
<path d="M 322.05 298.21 L 319.32 303.68" stroke="#f2f2f2" stroke-width="1.3" stroke-linecap="butt"/>
<path d="M 324.69 299.12 L 321.95 304.59" stroke="#f2f2f2" stroke-width="1.3" stroke-linecap="butt"/>
<path d="M 327.32 300.03 L 324.59 305.5" stroke="#f2f2f2" stroke-width="1.3" stroke-linecap="butt"/>
<path d="M 329.96 300.94 L 327.23 306.41" stroke="#f2f2f2" stroke-width="1.3" stroke-linecap="butt"/>
<path d="M 332.6 301.85 L 329.86 307.31" stroke="#f2f2f2" stroke-width="1.3" stroke-linecap="butt"/>
<path d="M 335.23 302.75 L 332.5 308.22" stroke="#f2f2f2" stroke-width="1.3" stroke-linecap="butt"/>
<path d="M 337.87 303.66 L 335.14 309.13" stroke="#f2f2f2" stroke-width="1.3" stroke-linecap="butt"/>
<path d="M 340.51 304.57 L 337.77 310.04" stroke="#f2f2f2" stroke-width="1.3" stroke-linecap="butt"/>
<path d="M 343.14 305.48 L 340.41 310.95" stroke="#f2f2f2" stroke-width="1.3" stroke-linecap="butt"/>
<path d="M 345.78 306.39 L 343.05 311.86" stroke="#f2f2f2" stroke-width="1.3" stroke-linecap="butt"/>
<ellipse cx="302.62" cy="295.62" rx="1.66" ry="3.91" transform="rotate(18 302.62 295.62)" fill="#fefefe" stroke-width="1.1"/>
<ellipse cx="387.29" cy="324.43" rx="1.27" ry="3.32" transform="rotate(18 387.29 324.43)" stroke-width="0.9"/>
<path d="M 412.58 328.18 L 465.31 345.76 Q 468.39 347.08 467.95 350.6 Q 467.07 354.11 463.12 353.67 L 409.5 336.09 Q 407.3 333.46 408.62 330.64 Q 409.94 328.18 412.58 328.18 Z" fill="#fefefe" stroke-width="1.2"/>
<ellipse cx="465.31" cy="350.16" rx="2.46" ry="4.22" transform="rotate(18 465.31 350.16)" stroke-width="1.1"/>
<path d="M 464.43 350.16 L 466.37 350.33" stroke-width="0.8"/>
<path d="M 413.02 329.06 L 444.22 339.61" stroke="#1f1f1f" stroke-width="3.1" stroke-dasharray="3.2 1.5" stroke-linecap="butt"/>
<path d="M 410.38 335.65 L 438.95 344.88" stroke="#1f1f1f" stroke-width="3.1" stroke-dasharray="3.2 1.5" stroke-linecap="butt"/>
<path d="M 411.26 332.58 L 445.98 343.3" stroke="#1f1f1f" stroke-width="1.6"/>
<path d="M 431.04 334.51 Q 444.22 336.97 456.96 333.11 Q 455.21 336.97 447.73 339.08 Q 440.7 339.61 432.79 336.97 Z" fill="#1f1f1f" stroke="#1f1f1f" stroke-width="0.8"/>
<path d="M 440.7 337.15 Q 447.73 336.97 453.89 334.78" stroke="#eee" stroke-width="0.6"/>
<path d="M 434.11 342.77 Q 444.66 345.76 449.14 358.95 Q 442.46 355.43 438.77 350.16 Q 437.01 346.82 433.23 345.23 Z" fill="#1f1f1f" stroke="#1f1f1f" stroke-width="0.8"/>
<path d="M 440.7 347.96 Q 445.54 351.91 447.56 356.31" stroke="#eee" stroke-width="0.6"/>
<path d="M481.7 352.6 L538.5 369.8 Q541 370.5 540.8 373 Q540.3 376 537.5 375.4 L480.5 357.8 Z" fill="#222" stroke="#222" stroke-width="0.7"/>
<ellipse cx="539.2" cy="372.7" rx="1.1" ry="2.4" transform="rotate(18 539.2 372.7)" fill="#fefefe" stroke="none"/>
<line x1="484.8" y1="352.7" x2="483.4" y2="356.9" stroke="#9a9a9a" stroke-width="0.5"/>
<line x1="487.8" y1="353.6" x2="486.4" y2="357.8" stroke="#9a9a9a" stroke-width="0.5"/>
<line x1="490.8" y1="354.6" x2="489.4" y2="358.8" stroke="#9a9a9a" stroke-width="0.5"/>
<line x1="493.8" y1="355.5" x2="492.4" y2="359.7" stroke="#9a9a9a" stroke-width="0.5"/>
<line x1="496.8" y1="356.4" x2="495.4" y2="360.6" stroke="#9a9a9a" stroke-width="0.5"/>
<line x1="499.8" y1="357.3" x2="498.4" y2="361.6" stroke="#9a9a9a" stroke-width="0.5"/>
<line x1="502.8" y1="358.3" x2="501.4" y2="362.5" stroke="#9a9a9a" stroke-width="0.5"/>
<line x1="505.8" y1="359.2" x2="504.4" y2="363.4" stroke="#9a9a9a" stroke-width="0.5"/>
<line x1="508.8" y1="360.1" x2="507.4" y2="364.3" stroke="#9a9a9a" stroke-width="0.5"/>
<line x1="511.8" y1="361.1" x2="510.4" y2="365.3" stroke="#9a9a9a" stroke-width="0.5"/>
<line x1="514.8" y1="362.0" x2="513.4" y2="366.2" stroke="#9a9a9a" stroke-width="0.5"/>
<line x1="517.8" y1="362.9" x2="516.4" y2="367.1" stroke="#9a9a9a" stroke-width="0.5"/>
<line x1="520.8" y1="363.9" x2="519.4" y2="368.1" stroke="#9a9a9a" stroke-width="0.5"/>
<line x1="523.8" y1="364.8" x2="522.4" y2="369.0" stroke="#9a9a9a" stroke-width="0.5"/>
<line x1="526.8" y1="365.7" x2="525.4" y2="369.9" stroke="#9a9a9a" stroke-width="0.5"/>
<line x1="529.8" y1="366.6" x2="528.4" y2="370.9" stroke="#9a9a9a" stroke-width="0.5"/>
<line x1="532.8" y1="367.6" x2="531.4" y2="371.8" stroke="#9a9a9a" stroke-width="0.5"/>
<line x1="535.8" y1="368.5" x2="534.4" y2="372.7" stroke="#9a9a9a" stroke-width="0.5"/>
</g>
<!-- sec_50_step2 -->
<rect x="680.43" y="184.45" width="7.38" height="48.87" stroke-width="1.15"/>
<path d="M 681.72 233.67 Q 675.16 245.62 671.64 251.48 Q 669.3 256.17 669.3 262.03 L 669.53 273.16" stroke-width="1.0"/>
<path d="M 684.06 234.14 Q 677.5 246.8 673.75 252.66 Q 671.41 256.76 671.41 262.03 L 671.41 273.16" stroke-width="1.0"/>
<path d="M 686.64 233.67 Q 692.97 245.62 696.72 251.48 Q 699.18 256.17 699.18 262.03 L 698.83 273.16" stroke-width="1.0"/>
<path d="M 684.3 234.14 Q 690.62 246.8 694.61 252.66 Q 696.95 256.76 696.95 262.03 L 696.95 273.16" stroke-width="1.0"/>
<path d="M 670.47 263.44 L 670.47 273.16" stroke="#484848" stroke-width="2.2" stroke-linecap="butt"/>
<path d="M 697.89 263.44 L 697.89 273.16" stroke="#484848" stroke-width="2.2" stroke-linecap="butt"/>
<path d="M 663.36 287.39 L 680.65 287.39 L 680.65 312.2 L 687.49 312.2 L 687.49 287.39 L 704.78 287.39 L 704.78 345.41 L 687.49 345.41 L 687.49 319.62 L 680.65 319.62 L 680.65 345.41 L 663.36 345.41 Z" stroke-width="1.3" stroke-linejoin="miter"/>
<rect x="682.9" y="314.74" width="2.34" height="2.54" stroke-width="0.9"/>
<circle cx="672.16" cy="305.65" r="6.64" stroke-width="1.3" stroke="#333"/>
<circle cx="672.16" cy="305.65" r="5.08" stroke-width="1.0" stroke="#444"/>
<circle cx="672.16" cy="305.65" r="5.86" stroke-width="0.8" stroke="#bbb"/>
<line x1="672.16" y1="301.94" x2="672.16" y2="309.37" stroke="#1f1f1f" stroke-width="1.7" stroke-linecap="butt"/>
<circle cx="696.28" cy="305.65" r="6.64" stroke-width="1.3" stroke="#333"/>
<circle cx="696.28" cy="305.65" r="5.08" stroke-width="1.0" stroke="#444"/>
<circle cx="696.28" cy="305.65" r="5.86" stroke-width="0.8" stroke="#bbb"/>
<line x1="696.28" y1="301.94" x2="696.28" y2="309.37" stroke="#1f1f1f" stroke-width="1.7" stroke-linecap="butt"/>
<circle cx="672.16" cy="326.46" r="6.64" stroke-width="1.3" stroke="#333"/>
<circle cx="672.16" cy="326.46" r="5.08" stroke-width="1.0" stroke="#444"/>
<circle cx="672.16" cy="326.46" r="5.86" stroke-width="0.8" stroke="#bbb"/>
<line x1="672.16" y1="322.75" x2="672.16" y2="330.17" stroke="#1f1f1f" stroke-width="1.7" stroke-linecap="butt"/>
<circle cx="696.28" cy="326.46" r="6.64" stroke-width="1.3" stroke="#333"/>
<circle cx="696.28" cy="326.46" r="5.08" stroke-width="1.0" stroke="#444"/>
<circle cx="696.28" cy="326.46" r="5.86" stroke-width="0.8" stroke="#bbb"/>
<line x1="696.28" y1="322.75" x2="696.28" y2="330.17" stroke="#1f1f1f" stroke-width="1.7" stroke-linecap="butt"/>
<path d="M 669.44 345.71 Q 669.44 351.43 671.37 354.95 Q 675.77 362.86 681.22 374.73" stroke-width="1.0"/>
<path d="M 671.81 345.71 Q 671.81 350.99 673.84 354.51 Q 678.85 362.86 683.68 374.11" stroke-width="1.0"/>
<path d="M 699.33 345.71 Q 699.33 351.43 697.4 354.95 Q 692.91 362.86 687.2 374.73" stroke-width="1.0"/>
<path d="M 697.04 345.71 Q 697.04 350.99 694.93 354.51 Q 689.84 362.86 684.56 374.11" stroke-width="1.0"/>
<rect x="680.16" y="374.73" width="7.74" height="49.67" stroke-width="1.15" fill="#fefefe"/>
<text style="stroke:#1c1c1c;stroke-width:0.55" x="656.0" y="283.0" font-size="11.6">N</text>
<text style="stroke:#1c1c1c;stroke-width:0.55" x="702.6" y="283.0" font-size="11.6">L</text>
<text style="stroke:#1c1c1c;stroke-width:0.55" x="656.0" y="360.6" font-size="11.6">N</text>
<text style="stroke:#1c1c1c;stroke-width:0.55" x="702.6" y="360.6" font-size="11.6">L</text>
<circle cx="763.11" cy="235.38" r="12.01" stroke-width="1.2"/>
<path d="M 763.5 227.38 L 763.5 236.36 M 754.03 236.36 L 772.58 236.36" stroke-width="1.0" stroke-linecap="butt"/>
<path d="M 755.99 238.89 L 770.63 238.89" stroke="#777" stroke-width="1.6" stroke-linecap="butt"/>
<path d="M 758.43 241.33 L 768.68 241.33" stroke-width="1.0" stroke-linecap="butt"/>
<path d="M 773.56 254.9 Q 776 262.71 780.88 269.54 Q 785.76 276.38 786.25 282.23 L 785.76 295.41" stroke-width="1.0"/>
<path d="M 771.12 255.1 Q 773.56 263.2 778.44 270.52 Q 783.03 277.35 783.42 283.21 L 783.51 295.41 L 785.76 295.41" stroke-width="1.0"/>
<path d="M 784.59 284.19 L 784.59 295.12" stroke="#888" stroke-width="1.0"/>
<path d="M 751.71 339.19 Q 751.71 336.27 754.64 336.27 L 805.01 336.27 Q 807.7 336.27 807.7 339.19 L 807.7 376.68 Q 807.7 404.79 779.82 404.79 Q 751.71 404.79 751.71 376.68 Z" stroke-width="1.3" fill="#fefefe"/>
<path d="M 752.65 338.37 L 807 338.37" stroke-width="0.8"/>
<path d="M 753.82 336.62 L 805.59 336.62" stroke-width="1.7" stroke-linecap="butt"/>
<circle cx="779.59" cy="379.02" r="17.57" stroke-width="1.2"/>
<circle cx="765.77" cy="349.15" r="7.03" stroke-width="1.3"/>
<path d="M 765.77 344.11 L 765.77 350.32 M 760.85 350.32 L 770.69 350.32 M 762.25 352.66 L 769.28 352.66" stroke-width="0.8" stroke-linecap="butt"/>
<rect x="764.6" y="302.3" width="30.22" height="33.38" stroke-width="1.2" fill="#fefefe"/>
<rect x="761.43" y="309.33" width="3.17" height="12.3" stroke-width="1.0"/>
<rect x="794.82" y="309.33" width="2.93" height="12.3" stroke-width="1.0"/>
<path d="M 764.83 329.59 L 794.58 329.59 M 764.83 331.93 L 794.58 331.93 M 764.83 334.28 L 794.58 334.28" stroke="#1f1f1f" stroke-width="1.5" stroke-linecap="butt"/>
<circle cx="779.82" cy="315.18" r="14.29" stroke-width="1.2"/>
<circle cx="779.82" cy="315.18" r="12.65" stroke-width="0.7" stroke="#999"/>
<circle cx="779.82" cy="315.18" r="10.78" stroke-width="1.9"/>
<circle cx="779.82" cy="315.18" r="6.56" stroke-width="1.3"/>
<path d="M 779.82 301.71 L 779.82 308.51 M 779.82 321.86 L 779.82 328.89 M 765.18 315.18 L 773.15 315.18 M 786.5 315.18 L 794.47 315.18" stroke-width="0.7"/>
<path d="M 779.82 310.85 L 779.82 319.52 M 775.49 315.18 L 784.16 315.18" stroke="#1f1f1f" stroke-width="2.6" stroke-linecap="butt"/>
<path d="M 779.82 311.32 L 779.82 319.05 M 775.96 315.18 L 783.69 315.18" stroke="#fefefe" stroke-width="0.9" stroke-linecap="butt"/>
<!-- sec_60_step3 -->
<path d="M603.3 524.8 L613.4 522.2 L706.9 567 L707.1 815.2 L695.8 817.8 L603.3 773.8 Z" fill="#fefefe" stroke-width="1.5"/>
<path d="M603.3 524.8 L695.8 570.2 L706.9 567 M695.8 570.2 L695.8 817.8" stroke-width="1.4"/>
<line x1="603.3" y1="555.9" x2="695.8" y2="601.2" stroke-width="1.0"/>
<line x1="603.3" y1="587.0" x2="695.8" y2="632.1" stroke-width="1.0"/>
<line x1="603.3" y1="618.2" x2="695.8" y2="663.0" stroke-width="1.0"/>
<line x1="603.3" y1="649.3" x2="695.8" y2="694.0" stroke-width="1.0"/>
<line x1="603.3" y1="680.4" x2="695.8" y2="725.0" stroke-width="1.0"/>
<line x1="603.3" y1="711.5" x2="695.8" y2="755.9" stroke-width="1.0"/>
<line x1="603.3" y1="742.7" x2="695.8" y2="786.8" stroke-width="1.0"/>
<line x1="649.4" y1="547.4" x2="649.4" y2="578.5" stroke-width="1.0"/>
<line x1="627.0" y1="567.5" x2="627.0" y2="598.6" stroke-width="1.0"/>
<line x1="672.6" y1="589.8" x2="672.6" y2="620.8" stroke-width="1.0"/>
<line x1="649.4" y1="609.5" x2="649.4" y2="640.5" stroke-width="1.0"/>
<line x1="627.0" y1="629.7" x2="627.0" y2="660.8" stroke-width="1.0"/>
<line x1="672.6" y1="651.8" x2="672.6" y2="682.8" stroke-width="1.0"/>
<line x1="649.4" y1="671.6" x2="649.4" y2="702.6" stroke-width="1.0"/>
<line x1="627.0" y1="691.8" x2="627.0" y2="722.9" stroke-width="1.0"/>
<line x1="672.6" y1="713.8" x2="672.6" y2="744.8" stroke-width="1.0"/>
<line x1="649.4" y1="733.7" x2="649.4" y2="764.7" stroke-width="1.0"/>
<line x1="627.0" y1="754.0" x2="627.0" y2="785.1" stroke-width="1.0"/>
<line x1="672.6" y1="775.8" x2="672.6" y2="806.8" stroke-width="1.0"/>
<path d="M707.3 605.0 L711 604.6 Q714.2 605.2 714.2 609.2 Q714.2 613.2 711 613.8000000000001 L707.3 613.4000000000001" stroke-width="1.1" fill="#fefefe"/>
<path d="M709.6 604.8000000000001 Q711.4 609.2 709.6 613.6" stroke-width="0.8"/>
<path d="M707.3 698.6999999999999 L711 698.3 Q714.2 698.9 714.2 702.9 Q714.2 706.9 711 707.5 L707.3 707.1" stroke-width="1.1" fill="#fefefe"/>
<path d="M709.6 698.5 Q711.4 702.9 709.6 707.3" stroke-width="0.8"/>
<path d="M639.69 601.41 L659.84 596.25 L662.03 597.5 L662.03 743.87 Q662.03 748.02 658.92 748.85 L639.69 736.73 Z" fill="#fefefe" stroke="none"/>
<path d="M639.69 601.41 L639.69 736.73" stroke-width="1.2"/>
<path d="M659.84 598.28 L659.84 742.7" stroke-width="1.0"/>
<path d="M662.03 597.81 L662.03 743.87 Q662.03 747.69 659.42 748.85" stroke-width="1.2"/>
<path d="M 613.44 593.12 Q 613.44 590.47 616.88 589.38 L 638.44 585 L 659.84 595.62 L 662.03 597.5 L 640 602.5 L 626.72 601.88 Q 621.25 600.62 615 595.94 Q 613.44 594.69 613.44 593.12 Z" fill="#fefefe" stroke-width="1.2"/>
<path d="M 615.31 593.59 Q 615.78 591.72 618.12 591.25 L 637.66 587.34 L 656.41 596.25 L 639.69 599.84 L 627.5 599.38 Q 621.25 597.81 615.78 594.84" stroke-width="0.8"/>
<path d="M 614.69 595.62 Q 621.25 601.41 627.5 603.12 L 639.69 603.44" stroke-width="0.8"/>
<ellipse cx="637.19" cy="591.88" rx="3.44" ry="1.25" transform="rotate(8 637.19 591.88)" fill="#1f1f1f" stroke="#1f1f1f" stroke-width="0.6"/>
<ellipse cx="649.38" cy="620.16" rx="5" ry="8.12" transform="rotate(-12 649.38 620.16)" stroke-width="1.3" fill="#fefefe"/>
<ellipse cx="649.06" cy="620.16" rx="2.97" ry="5.16" transform="rotate(-12 649.06 620.16)" stroke-width="1.1"/>
<path d="M 648.12 617.81 L 650.31 622.81 M 647.5 621.25 L 650.94 619.06" stroke-width="0.7"/>
<ellipse cx="649.29" cy="713.14" rx="4.98" ry="9.13" transform="rotate(-12 649.29 713.14)" stroke-width="1.3" fill="#fefefe"/>
<ellipse cx="648.96" cy="713.14" rx="2.82" ry="5.81" transform="rotate(-12 648.96 713.14)" stroke-width="1.1"/>
<path d="M 647.79 710.32 L 650.45 716.13 M 647.13 714.47 L 651.12 711.81" stroke-width="0.7"/>
<path d="M 613.25 743.87 Q 613.25 741.04 617.4 740.05 L 639.32 735.56 L 659.75 745.03 Q 663.07 746.36 659.75 748.35 L 639.82 753.33 L 625.71 752.67 Q 619.06 750.51 614.08 746.36 Q 613.25 745.03 613.25 743.87 Z" fill="#fefefe" stroke-width="1.2"/>
<path d="M 639.32 735.56 L 639.82 738.05 L 657.26 746.36" stroke-width="0.8"/>
<path d="M 615.24 743.87 Q 615.74 742.21 618.56 741.71 L 639.16 738.05 M 614.91 746.69 Q 620.72 751.67 626.54 754 L 639.82 754.66 L 659.75 749.68" stroke-width="0.8"/>
<ellipse cx="637.33" cy="743.04" rx="3.32" ry="1.33" transform="rotate(5 637.33 743.04)" fill="#1f1f1f" stroke="#1f1f1f" stroke-width="0.6"/>
<path d="M552.34 607.19 L603.12 597.34 L613.44 594.38" stroke-width="1.55"/>
<path d="M567.95 760.84 L603.91 754.28 L617.4 750.51" stroke-width="1.55"/>
<path d="M523.44 598.12 Q528.12 595.47 533.59 597.5 L567.5 615.31 L567.5 777.25 L536.23 782.71 L528.71 778.61 L528.59 624.38 Z" fill="#fefefe" stroke="none"/>
<path d="M521.88 598.59 Q527.81 595.0 533.59 597.5 L567.5 615.31 L537.5 621.25 Q532.03 622.5 528.59 625.62" stroke-width="1.45"/>
<path d="M567.5 615.31 L567.5 777.25 L536.23 782.71 L536.23 621.88" stroke-width="1.0" stroke="#333"/>
<path d="M536.23 782.71 L567.5 777.25" stroke-width="1.5"/>
<path d="M528.71 778.61 L534.18 783.67" stroke-width="0.9"/>
<ellipse cx="533.91" cy="608.28" rx="3.75" ry="1.41" stroke-width="1.0"/>
<path d="M 533.59 589.22 L 533.59 608.28" stroke-width="1.0"/>
<path d="M 528.91 574.69 L 538.28 574.69 L 538.28 587.66 Q 533.59 590.31 528.91 587.66 Z" fill="#1f1f1f" stroke="#1f1f1f" stroke-width="0.8"/>
<path d="M 524.53 569.38 Q 524.53 565.31 533.59 565 Q 542.66 565.31 542.66 569.38 L 542.66 572.03 Q 542.66 575.62 533.59 575.94 Q 524.53 575.62 524.53 572.03 Z" fill="#fefefe" stroke-width="1.2"/>
<path d="M 524.53 569.69 Q 525 573.12 533.59 573.44 Q 542.19 573.12 542.66 569.69" stroke-width="0.9"/>
<ellipse cx="533.59" cy="567.66" rx="4.38" ry="1.41" fill="#444" stroke="#333" stroke-width="0.6"/>
<path d="M 532.81 782.71 L 532.81 789.55" stroke-width="0.9"/>
<path d="M 529.12 790.23 Q 533.91 787.5 538.96 790.23 L 538.96 805.96 L 529.12 805.96 Z" fill="#1f1f1f" stroke="#1f1f1f" stroke-width="0.8"/>
<path d="M 528.71 808.01 Q 528.98 805.55 535.82 805.27 Q 542.66 805.55 542.66 808.01 L 542.66 810.47 Q 542.38 813.2 535.82 813.48 Q 528.98 813.2 528.71 810.47 Z" fill="#fefefe" stroke-width="1.1"/>
<path d="M 528.71 808.69 Q 529.39 811.02 535.82 811.29 Q 542.11 811.02 542.66 808.69" stroke-width="0.8"/>
<path d="M 529.12 795.7 L 529.12 807.32 L 538.96 805.96 L 538.96 795.7 Z" fill="#1f1f1f" stroke="none"/>
<path d="M316.5 609.8 L316.5 810.5 A106 33.2 0 0 0 528.5 810.5 L528.5 609.8 Z" fill="#fefefe" stroke="#333" stroke-width="0.95"/>
<ellipse cx="422.5" cy="609.9" rx="106" ry="32.6" fill="#fefefe" stroke-width="1.8"/>
<ellipse cx="422.3" cy="609.5" rx="98.1" ry="29.2" stroke-width="1.7"/>
<!-- sec_70_footer -->
<text style="stroke:#222;stroke-width:0.25" id="f1" x="460.3" y="925.6" font-size="11.8" textLength="334.3" lengthAdjust="spacingAndGlyphs">Instrukcja montażu / instalation instructions / Montageanleitung</text>
<text style="stroke:#222;stroke-width:0.25" id="f2" x="460.3" y="941.7" font-size="11.8" textLength="178.6" lengthAdjust="spacingAndGlyphs">Kinkiet / Wall lamp / Wandleuchte</text>
</svg>
</body></html>
